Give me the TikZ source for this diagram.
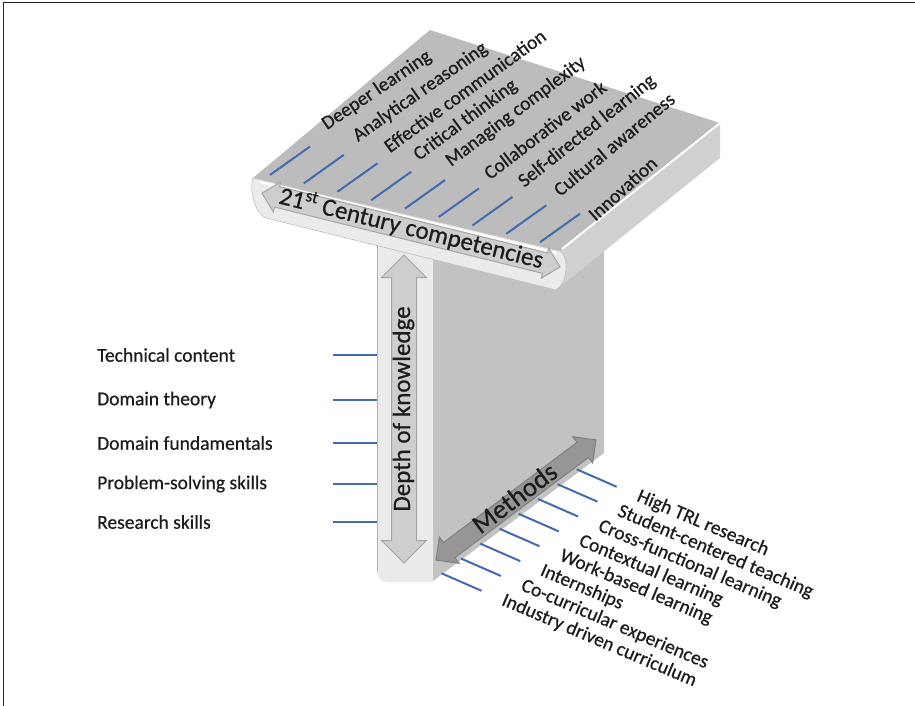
\documentclass[tikz,border=0pt]{standalone}
\usepackage{fontspec}
\setmainfont{Carlito}
\newfontfamily\labelfont{Carlito}[FakeBold=0.6]
\usepackage{tikz}
\usetikzlibrary{shapes.arrows}

\definecolor{tickblue}{RGB}{66,107,178}
\definecolor{slabtop}{RGB}{188,188,188}
\definecolor{slabside}{RGB}{208,208,208}
\definecolor{stemside}{RGB}{194,194,194}
\definecolor{lightface}{RGB}{235,235,235}
\definecolor{arrfill}{RGB}{206,206,206}
\definecolor{arrdraw}{RGB}{165,165,165}
\definecolor{methfill}{RGB}{150,150,150}
\definecolor{methdraw}{RGB}{128,128,128}
\definecolor{ink}{RGB}{28,28,28}

\begin{document}
\begin{tikzpicture}[x=1pt,y=-1pt,
  tickline/.style={draw=tickblue,line width=2pt},
  lab/.style={font=\labelfont\fontsize{19.5}{22}\selectfont,text=ink,inner sep=0pt,anchor=west},
  fatarrow/.style={double arrow,draw=arrdraw,fill=arrfill,line width=1pt,inner xsep=3pt,text=ink,font=\labelfont\fontsize{25}{25}\selectfont}]
\newcommand{\tstepx}{33.75}
\newcommand{\tstepy}{8.4}
\newcommand{\mstepx}{-19.3}
\newcommand{\mstepy}{14.86}

\useasboundingbox (0,0) rectangle (915,706);
\draw[line width=1.8pt,black!85] (3.5,706) -- (3.5,2.5) -- (915,2.5);

\fill[stemside] (433,240) -- (604,240) -- (604,453) -- (433,581) -- cycle;
\fill[lightface] (377,235) -- (433,235) -- (433,582) -- (387,582) .. controls (381,582) and (377,578) .. (377,572) -- cycle;
\draw[black!30,line width=1pt] (377.5,240) -- (377.5,572);

\fill[slabtop] (253,178) -- (430,30) -- (720,123) -- (560,251) -- cycle;
\fill[slabside] (560,251) -- (720,123) -- (720,158) -- (556,290) -- cycle;
\draw[white,line width=2pt] (562,249) -- (720,123);
\filldraw[fill=lightface,draw=black!25,line width=0.6pt] (253,178) -- (560,251) .. controls (569,256) and (568,283) .. (556,290) -- (266,218) .. controls (255,214) and (249,190) .. (253,178) -- cycle;
\draw[white,line width=2.5pt] (260,182) -- (556,253);

\node[fatarrow,rotate=-13.9,minimum height=307pt,minimum width=30pt,text height=16pt,text depth=4pt,inner ysep=0pt,double arrow head extend=5pt] (comp) at (411,230) {21\textsuperscript{st} Century competencies};
\node[fatarrow,rotate=90,minimum height=308pt,minimum width=44pt,text height=17pt,text depth=5pt,inner ysep=1pt,double arrow head extend=10pt] (depth) at (404,409) {Depth of knowledge};
\node[fatarrow,fill=methfill,draw=methdraw,rotate=36.9,minimum height=200pt,minimum width=32pt,text height=13pt,text depth=0pt,inner ysep=2.5pt,double arrow head extend=7pt,font=\labelfont\fontsize{27}{27}\selectfont] (meth) at (516,500) {Methods};

\foreach \txt/\px/\py/\ang [count=\i from 0] in {Deeper learning/324/126/34,Analytical reasoning/355/138/35,Effective communication/386/148/36,Critical thinking/416/157/36.5,Managing complexity/448/163/37,Collaborative work/486/175/37.5,Self-directed learning/521/184/38.5,Cultural awareness/556/192/39.5,Innovation/591/217/42}{
  \coordinate (ts\i) at ({270+\tstepx*\i},{175+\tstepy*\i});
  \coordinate (te\i) at ({310+\tstepx*\i},{146.5+\tstepy*\i});
  \draw[tickline] (ts\i) -- (te\i);
  \node[lab,rotate=\ang] (comp\i) at (\px,\py) {\txt};
}

\foreach \txt [count=\i from 0] in {High TRL research,Student-centered teaching,Cross-functional learning,Contextual learning,Work-based learning,Internships,Co-curricular experiences,Industry driven curriculum}{
  \coordinate (ms\i) at ({576.7+\mstepx*\i},{469.3+\mstepy*\i});
  \coordinate (me\i) at ({616.7+\mstepx*\i},{486.8+\mstepy*\i});
  \draw[tickline] (ms\i) -- (me\i);
  \node[lab,rotate=-23] (meth\i) at ({637.7+\mstepx*\i},{495.8+\mstepy*\i}) {\txt};
}

\foreach \txt/\py [count=\i from 0] in {Technical content/355,Domain theory/400,Domain fundamentals/443,Problem-solving skills/484,Research skills/522}{
  \coordinate (ks\i) at (333,\py);
  \coordinate (ke\i) at (377,\py);
  \draw[tickline] (ks\i) -- (ke\i);
  \node[lab] (know\i) at (97,\py) {\txt};
}
\end{tikzpicture}
\end{document}
